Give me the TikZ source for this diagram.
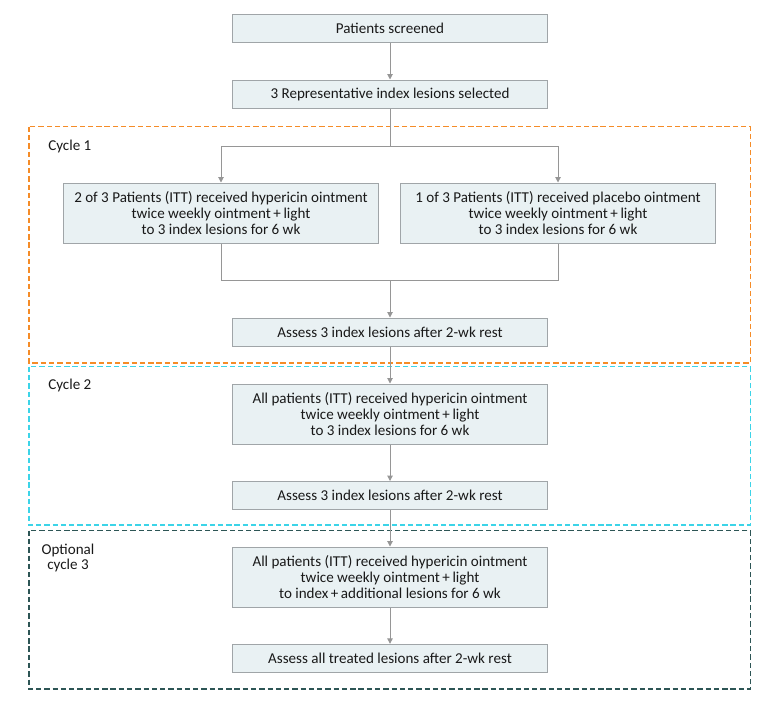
\documentclass[tikz,border=0pt]{standalone}
\usepackage{fontspec}
\setmainfont{Carlito}
\usepackage{tikz}
\usetikzlibrary{arrows.meta}
\usepackage{xcolor}

\definecolor{boxfill}{RGB}{233,241,243}
\definecolor{boxline}{RGB}{160,165,168}
\definecolor{flowline}{RGB}{150,150,150}
\definecolor{cycleone}{RGB}{245,140,40}
\definecolor{cycletwo}{RGB}{60,212,232}
\definecolor{cyclethree}{RGB}{45,85,85}

\tikzset{
  stepbox/.style={draw=boxline, fill=boxfill, line width=0.75pt, inner sep=1pt, align=center,
    font=\fontsize{11.3}{11.8}\selectfont, text=black!90, minimum width=236pt},
  onerow/.style={stepbox, minimum height=21pt},
  threerow/.style={stepbox, minimum height=45pt},
  flow/.style={draw=flowline, line width=0.75pt},
  flowarrow/.style={flow, -{Triangle[width=4pt,length=4pt]}},
  cycleframe/.style={dashed, line width=0.8pt, dash pattern=on 4pt off 2.2pt},
  cyclelabel/.style={font=\fontsize{11.3}{11.8}\selectfont, text=black!90, align=center, inner sep=0.75pt}
}

\begin{document}
\begin{tikzpicture}[x=0.75pt,y=0.75pt,yscale=-1,xscale=1]
\useasboundingbox (0,0) rectangle (780,701);

%Dashed frames
\draw [cycleframe, draw=cycleone] (29,126.7) rectangle (750.7,363);
\draw [cycleframe, draw=cycletwo] (29,366.7) rectangle (750.7,525);
\draw [cycleframe, draw=cyclethree] (29,530.7) rectangle (750.7,689);

% Text Node
\node [cyclelabel, anchor=west] (lblone) at (47,146) {Cycle 1};
% Text Node
\node [cyclelabel, anchor=west] (lbltwo) at (47,385) {Cycle 2};
% Text Node
\node [cyclelabel] (lblthree) at (68,558) {Optional\\cycle 3};

%Boxes
\node [onerow] (screen) at (390,28.5) {Patients screened};
\node [onerow] (select) at (390,94) {3 Representative index lesions selected};
\node [threerow] (hyper) at (221,213) {2 of 3 Patients (ITT) received hypericin ointment\\twice weekly ointment\,+\,light\\to 3 index lesions for 6 wk};
\node [threerow] (placebo) at (558,213) {1 of 3 Patients (ITT) received placebo ointment\\twice weekly ointment\,+\,light\\to 3 index lesions for 6 wk};
\node [onerow] (assessone) at (390,332) {Assess 3 index lesions after 2-wk rest};
\node [threerow] (alltwo) at (390,414) {All patients (ITT) received hypericin ointment\\twice weekly ointment\,+\,light\\to 3 index lesions for 6 wk};
\node [onerow] (assesstwo) at (390,495.5) {Assess 3 index lesions after 2-wk rest};
\node [threerow] (allthree) at (390,577) {All patients (ITT) received hypericin ointment\\twice weekly ointment\,+\,light\\to index\,+\,additional lesions for 6 wk};
\node [onerow] (assessthree) at (390,658.3) {Assess all treated lesions after 2-wk rest};

%Split and merge points
\coordinate (split) at (390,146);
\coordinate (merge) at (390,280);

%Connectors
\draw [flowarrow] (screen) -- (select);
\draw [flow] (select) -- (split);
\draw [flowarrow] (split) -| (hyper);
\draw [flowarrow] (split) -| (placebo);
\draw [flow] (hyper) |- (merge);
\draw [flow] (placebo) |- (merge);
\draw [flowarrow] (merge) -- (assessone);
\draw [flowarrow] (assessone) -- (alltwo);
\draw [flowarrow] (alltwo) -- (assesstwo);
\draw [flowarrow] (assesstwo) -- (allthree);
\draw [flowarrow] (allthree) -- (assessthree);

\end{tikzpicture}
\end{document}
